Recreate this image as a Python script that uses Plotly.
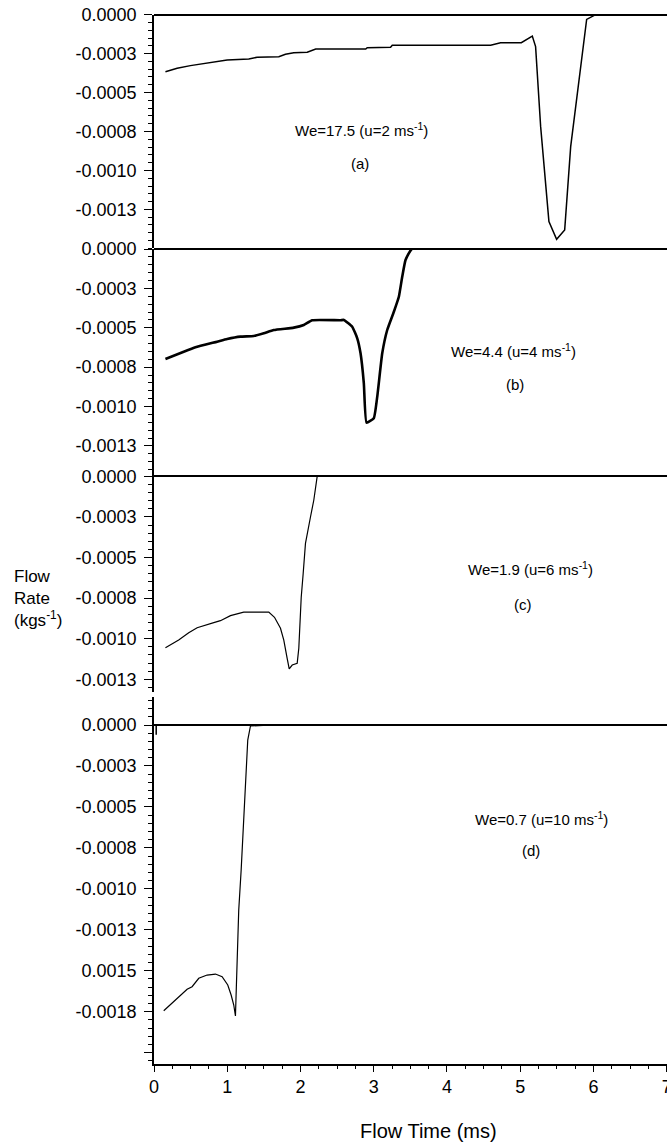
import plotly.graph_objects as go

# ---------------- data ----------------
time_a = [0.156, 0.316, 0.497, 0.794, 0.999, 1.294, 1.408, 1.704, 1.795, 1.908, 2.092, 2.208,
          2.891, 2.911, 3.23, 3.253, 4.596, 4.732, 5.015, 5.165, 5.21, 5.279, 5.392, 5.497,
          5.607, 5.689, 5.825, 5.907, 6.03, 7.0]
flow_a = [-0.000366, -0.000344, -0.000327, -0.000304, -0.000291, -0.000284, -0.000273, -0.000270,
          -0.000254, -0.000244, -0.000241, -0.000220, -0.000220, -0.000212, -0.000209, -0.000196,
          -0.000196, -0.000180, -0.000180, -0.000137, -0.000205, -0.000719, -0.001329, -0.001442,
          -0.001382, -0.000847, -0.000334, -0.000030, 0.0, 0.0]

time_b = [0.156, 0.406, 0.566, 0.862, 0.999, 1.180, 1.362, 1.499, 1.635, 1.909, 2.045, 2.160,
          2.546, 2.592, 2.706, 2.775, 2.820, 2.865, 2.902, 3.001, 3.048, 3.116, 3.184, 3.275,
          3.343, 3.389, 3.434, 3.503, 3.52]
flow_b = [-0.000698, -0.000652, -0.000624, -0.000588, -0.000571, -0.000556, -0.000552, -0.000535,
          -0.000514, -0.000499, -0.000482, -0.000452, -0.000452, -0.000450, -0.000493, -0.000567,
          -0.000662, -0.000852, -0.001102, -0.001074, -0.000937, -0.000662, -0.000514, -0.000398,
          -0.000303, -0.000176, -0.000070, -0.000010, 0.0]

time_c = [0.156, 0.337, 0.474, 0.589, 0.816, 0.907, 1.044, 1.180, 1.225, 1.567, 1.645, 1.727,
          1.772, 1.818, 1.846, 1.887, 1.955, 1.977, 1.990, 2.010, 2.037, 2.055, 2.068, 2.137,
          2.182, 2.228, 2.35]
flow_c = [-0.001055, -0.001008, -0.000963, -0.000932, -0.000901, -0.000889, -0.000858, -0.000840,
          -0.000836, -0.000836, -0.000868, -0.000936, -0.001008, -0.001121, -0.001185, -0.001162,
          -0.001152, -0.001059, -0.000895, -0.000745, -0.000597, -0.000515, -0.000413, -0.000249,
          -0.000146, 0.0, 0.0]

time_d = [0.133, 0.269, 0.452, 0.520, 0.611, 0.725, 0.839, 0.930, 1.007, 1.053, 1.089, 1.112,
          1.122, 1.143, 1.157, 1.190, 1.217, 1.249, 1.280, 1.317, 1.613]
flow_d = [-0.001744, -0.001689, -0.001613, -0.001597, -0.001546, -0.001526, -0.001520, -0.001536,
          -0.001587, -0.001648, -0.001709, -0.001776, -0.001648, -0.001394, -0.001129, -0.000885,
          -0.000621, -0.000316, -0.000092, -0.000006, 0.0]
time_d_start = [0.03, 0.03]
flow_d_start = [0.0, -0.00006]

tick_vals_abc = [0.0, -0.00025, -0.0005, -0.00075, -0.001, -0.00125]
tick_text_abc = ["0.0000", "-0.0003", "-0.0005", "-0.0008", "-0.0010", "-0.0013"]
tick_vals_d = [0.0, -0.00025, -0.0005, -0.00075, -0.001, -0.00125, -0.0015, -0.00175, -0.002]
tick_text_d = ["0.0000", "-0.0003", "-0.0005", "-0.0008", "-0.0010", "-0.0013", "0.0015", "-0.0018", ""]
x_ticks = [0, 1, 2, 3, 4, 5, 6, 7]

labels = ["We=17.5 (u=2 ms<sup>-1</sup>)", "We=4.4 (u=4 ms<sup>-1</sup>)",
          "We=1.9 (u=6 ms<sup>-1</sup>)", "We=0.7 (u=10 ms<sup>-1</sup>)"]
letters = ["(a)", "(b)", "(c)", "(d)"]

# ---------------- figure ----------------
W, H = 667, 1144
ML, MR, MT, MB = 154, 0, 0, 80
PH = H - MT - MB
PW = W - ML - MR


def fy(py):
    return (H - MB - py) / PH


def fx(px):
    return (px - ML) / PW


FONT = "Liberation Sans, Arial, Helvetica, sans-serif"
fig = go.Figure()

fig.add_trace(go.Scatter(x=time_a, y=flow_a, xaxis="x", yaxis="y", mode="lines",
                         line=dict(color="black", width=1.5), showlegend=False))
fig.add_trace(go.Scatter(x=time_b, y=flow_b, xaxis="x", yaxis="y2", mode="lines",
                         line=dict(color="black", width=2.6, shape="spline", smoothing=0.4),
                         showlegend=False))
fig.add_trace(go.Scatter(x=time_c, y=flow_c, xaxis="x", yaxis="y3", mode="lines",
                         line=dict(color="black", width=1.2), showlegend=False))
fig.add_trace(go.Scatter(x=time_d, y=flow_d, xaxis="x", yaxis="y4", mode="lines",
                         line=dict(color="black", width=1.2), showlegend=False))
fig.add_trace(go.Scatter(x=time_d_start, y=flow_d_start, xaxis="x", yaxis="y4", mode="lines",
                         line=dict(color="black", width=1.5), showlegend=False))


def yax(domain, rng, vals, texts):
    return dict(
        domain=domain, range=rng, anchor="x", showgrid=False, automargin=False,
        zeroline=True, zerolinecolor="black", zerolinewidth=1.6,
        showline=True, linecolor="black", linewidth=1.6,
        ticks="outside", ticklen=8, tickwidth=1.2, tickcolor="black",
        tickmode="array", tickvals=vals, ticktext=texts,
        ticklabelstandoff=4, ticklabeloverflow="allow",
        tickfont=dict(family=FONT, size=18, color="black"),
        minor=dict(tickmode="linear", tick0=0, dtick=0.00005, ticks="outside",
                   ticklen=4, tickwidth=1, tickcolor="black", showgrid=False),
    )


layout = dict(
    width=W, height=H,
    margin=dict(l=ML, r=MR, t=MT, b=MB, autoexpand=False),
    paper_bgcolor="white", plot_bgcolor="white",
    showlegend=False,
    font=dict(family=FONT, color="black"),
    xaxis=dict(domain=[0, 1], range=[0, 7.004], anchor="y4", showgrid=False, zeroline=False,
               automargin=False, ticklabeloverflow="allow",
               showline=True, linecolor="black", linewidth=1.6,
               ticks="outside", ticklen=6, tickwidth=1.2, tickcolor="black",
               tickmode="array", tickvals=x_ticks, ticktext=[str(v) for v in x_ticks],
               tickfont=dict(family=FONT, size=18, color="black"),
               minor=dict(tickmode="linear", tick0=0, dtick=0.25, ticks="outside",
                          ticklen=3, tickwidth=1, tickcolor="black", showgrid=False)),
    yaxis=yax([fy(248.3), fy(14.7)], [-0.0015, 0.0], tick_vals_abc, tick_text_abc),
    yaxis2=yax([fy(476.7), fy(249.0)], [-0.001445, 0.0], tick_vals_abc, tick_text_abc),
    yaxis3=yax([fy(692.0), fy(476.3)], [-0.001328, 0.0], tick_vals_abc, tick_text_abc),
    yaxis4=yax([fy(1064.0), fy(697.0)], [-0.002069, 0.000171], tick_vals_d, tick_text_d),
)
fig.update_layout(**layout)

# panel annotations
ann_pos = [((361, 130), (360, 163)), ((513, 350), (515, 385)),
           ((530, 568), (523, 604)), ((541, 818), (531, 850))]
for lab, let, (p1, p2) in zip(labels, letters, ann_pos):
    fig.add_annotation(x=fx(p1[0]), y=fy(p1[1]), xref="paper", yref="paper", text=lab,
                       showarrow=False, xanchor="center", yanchor="middle",
                       font=dict(family=FONT, size=15, color="black"))
    fig.add_annotation(x=fx(p2[0]), y=fy(p2[1]), xref="paper", yref="paper", text=let,
                       showarrow=False, xanchor="center", yanchor="middle",
                       font=dict(family=FONT, size=15, color="black"))

# axis titles
fig.add_annotation(x=fx(12), y=fy(598), xref="paper", yref="paper",
                   text="Flow<br>Rate<br>(kgs<sup>-1</sup>)", showarrow=False,
                   xanchor="left", yanchor="middle", align="left",
                   font=dict(family=FONT, size=17, color="black"))
fig.add_annotation(x=fx(428), y=fy(1131), xref="paper", yref="paper",
                   text="Flow Time (ms)", showarrow=False,
                   xanchor="center", yanchor="middle",
                   font=dict(family=FONT, size=20, color="black"))

fig.write_html("out.html")
